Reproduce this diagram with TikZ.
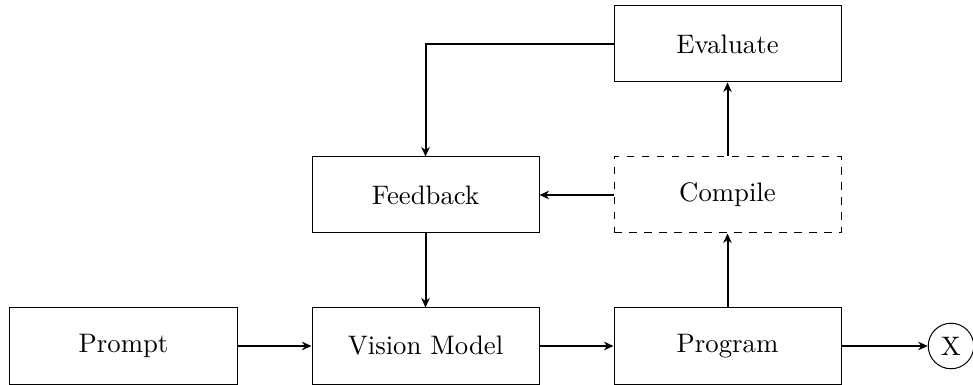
\documentclass[tikz,border=0pt]{standalone}
\usetikzlibrary{arrows.meta}
\begin{document}
\begin{tikzpicture}[x=0.4pt,y=-0.4pt,
  font=\fontsize{10.7}{13}\selectfont,
  box/.style={draw, line width=0.4pt, minimum width=90.8pt, minimum height=30.4pt, inner sep=0pt},
  conn/.style={thick,-{Stealth[length=3.8pt,width=3.4pt,inset=1.2pt]}}]
\useasboundingbox (0,0) rectangle (973,385);
\node[box] (prompt) at (123.5,346) {Prompt};
\node[box] (vision) at (425.5,346) {Vision Model};
\node[box] (program) at (727.5,346) {Program};
\node[box] (feedback) at (425.5,195) {Feedback};
\node[box,dashed] (compile) at (727.5,195) {Compile};
\node[box] (evaluate) at (727.5,44) {Evaluate};
\node[draw, circle, line width=0.4pt, minimum size=18.2pt, inner sep=0pt] (x) at (951,346) {X};
\draw[conn] (prompt) -- (vision);
\draw[conn] (vision) -- (program);
\draw[conn] (program) -- (x);
\draw[conn] (program) -- (compile);
\draw[conn] (compile) -- (evaluate);
\draw[conn] (compile) -- (feedback);
\draw[conn] (feedback) -- (vision);
\draw[conn] (evaluate.west) -| (feedback.north);
\end{tikzpicture}
\end{document}
